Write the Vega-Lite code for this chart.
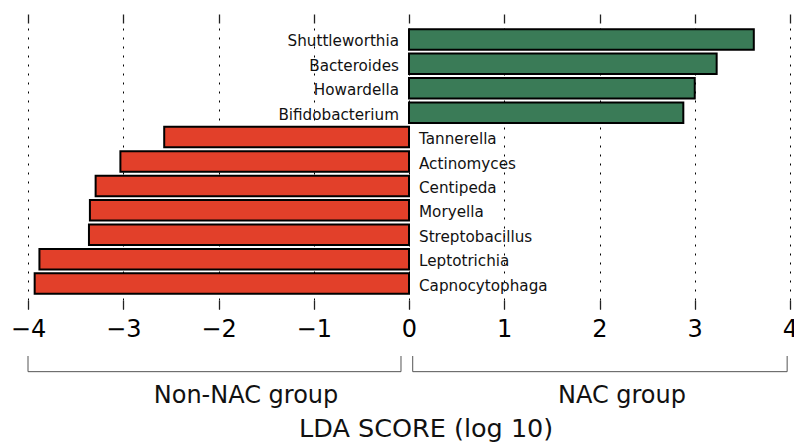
{
  "$schema": "https://vega.github.io/schema/vega-lite/v6.json",
  "padding": {"left": 10, "top": 13, "right": 0, "bottom": 0},
  "background": "white",
  "config": {"view": {"stroke": null}, "font": "DejaVu Sans"},
  "spacing": 47,
  "bounds": "flush",
  "datasets": {
    "lda": [
      {"taxon": "Shuttleworthia", "group": "NAC", "lda": 3.62},
      {"taxon": "Bacteroides", "group": "NAC", "lda": 3.23},
      {"taxon": "Howardella", "group": "NAC", "lda": 3.0},
      {"taxon": "Bifidobacterium", "group": "NAC", "lda": 2.88},
      {"taxon": "Tannerella", "group": "Non-NAC", "lda": -2.57},
      {"taxon": "Actinomyces", "group": "Non-NAC", "lda": -3.03},
      {"taxon": "Centipeda", "group": "Non-NAC", "lda": -3.29},
      {"taxon": "Moryella", "group": "Non-NAC", "lda": -3.35},
      {"taxon": "Streptobacillus", "group": "Non-NAC", "lda": -3.36},
      {"taxon": "Leptotrichia", "group": "Non-NAC", "lda": -3.88},
      {"taxon": "Capnocytophaga", "group": "Non-NAC", "lda": -3.93}
    ],
    "brackets": [
      {"x": -4, "x2": -0.084, "y": 0.82, "y2": 0.82},
      {"x": -4, "x2": -4, "y": 0.82, "y2": 1},
      {"x": -0.084, "x2": -0.084, "y": 0.82, "y2": 1},
      {"x": 0.039, "x2": 3.97, "y": 0.82, "y2": 0.82},
      {"x": 0.039, "x2": 0.039, "y": 0.82, "y2": 1},
      {"x": 3.97, "x2": 3.97, "y": 0.82, "y2": 1}
    ],
    "labels": [
      {"label": "Non-NAC group", "x": -1.711, "y": 0.463, "size": 24},
      {"label": "NAC group", "x": 2.236, "y": 0.463, "size": 24},
      {"label": "LDA SCORE (log 10)", "x": 0.18, "y": 0.07, "size": 25.5}
    ]
  },
  "vconcat": [
    {
      "width": 762,
      "height": 295,
      "data": {"name": "lda"},
      "resolve": {"axis": {"x": "independent"}},
      "encoding": {
        "y": {
          "field": "taxon",
          "type": "nominal",
          "sort": ["Shuttleworthia", "Bacteroides", "Howardella", "Bifidobacterium", "Tannerella", "Actinomyces", "Centipeda", "Moryella", "Streptobacillus", "Leptotrichia", "Capnocytophaga"],
          "scale": {"paddingInner": 0.16, "paddingOuter": 0.62},
          "axis": null
        }
      },
      "layer": [
        {
          "mark": {"type": "bar", "stroke": "black", "strokeWidth": 2, "opacity": 1},
          "encoding": {
            "x": {
              "field": "lda",
              "type": "quantitative",
              "scale": {"domain": [-4, 4], "nice": false, "zero": true},
              "axis": {
                "orient": "bottom",
                "values": [-4, -3, -2, -1, 0, 1, 2, 3, 4],
                "title": null,
                "domain": false,
                "grid": true,
                "gridColor": "black",
                "gridDash": [2, 7],
                "gridWidth": 1,
                "gridOpacity": 1,
                "ticks": true,
                "tickSize": -9,
                "tickColor": "#222",
                "tickWidth": 1.3,
                "labelFontSize": 24,
                "labelColor": "black",
                "labelPadding": 17,
                "labelFont": "DejaVu Sans",
                "labelFlush": false,
                "labelOverlap": false
              }
            },
            "color": {
              "field": "group",
              "type": "nominal",
              "scale": {"domain": ["NAC", "Non-NAC"], "range": ["#3A7B57", "#E2402A"]},
              "legend": null
            }
          }
        },
        {
          "transform": [{"filter": "datum.group === 'NAC'"}],
          "mark": {"type": "text", "align": "right", "baseline": "middle", "dx": -10, "dy": 2, "fontSize": 15.2, "color": "#111", "font": "DejaVu Sans"},
          "encoding": {
            "x": {
              "datum": 0,
              "type": "quantitative",
              "axis": {
                "orient": "top",
                "values": [-4, -3, -2, -1, 0, 1, 2, 3, 4],
                "title": null,
                "domain": false,
                "grid": false,
                "labels": false,
                "ticks": true,
                "tickSize": -9,
                "tickColor": "#222",
                "tickWidth": 1.3
              }
            },
            "text": {"field": "taxon"}
          }
        },
        {
          "transform": [{"filter": "datum.group === 'Non-NAC'"}],
          "mark": {"type": "text", "align": "left", "baseline": "middle", "dx": 10, "dy": 2, "fontSize": 15.2, "color": "#111", "font": "DejaVu Sans"},
          "encoding": {
            "x": {"datum": 0, "type": "quantitative", "axis": null},
            "text": {"field": "taxon"}
          }
        }
      ]
    },
    {
      "width": 762,
      "height": 87,
      "layer": [
        {
          "data": {"name": "brackets"},
          "mark": {"type": "rule", "color": "#555", "strokeWidth": 1},
          "encoding": {
            "x": {"field": "x", "type": "quantitative", "scale": {"domain": [-4, 4], "nice": false, "zero": false}, "axis": null},
            "x2": {"field": "x2"},
            "y": {"field": "y", "type": "quantitative", "scale": {"domain": [0, 1], "nice": false}, "axis": null},
            "y2": {"field": "y2"}
          }
        },
        {
          "data": {"name": "labels"},
          "mark": {"type": "text", "align": "center", "baseline": "alphabetic", "color": "#111", "font": "DejaVu Sans"},
          "encoding": {
            "x": {"field": "x", "type": "quantitative", "axis": null},
            "y": {"field": "y", "type": "quantitative", "axis": null},
            "text": {"field": "label"},
            "size": {"field": "size", "type": "quantitative", "scale": null}
          }
        }
      ]
    }
  ]
}
